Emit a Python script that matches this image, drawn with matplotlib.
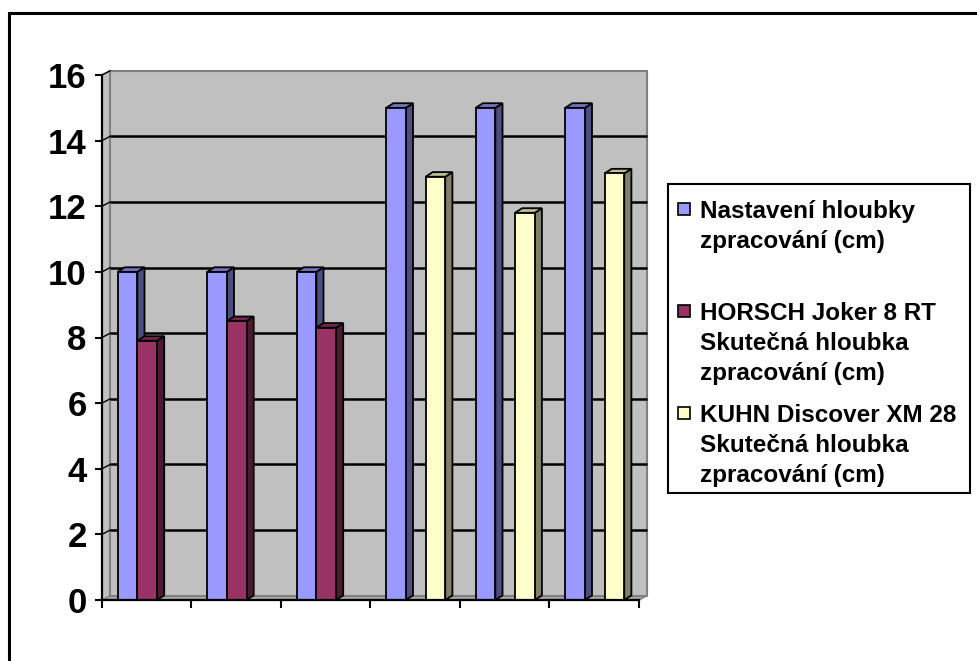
import matplotlib
matplotlib.use("Agg")
import matplotlib.pyplot as plt
from matplotlib.patches import Rectangle, Polygon
import numpy as np

# ---------------- data ----------------
categories = ["1", "2", "3", "4", "5", "6"]
series_names = [
    "Nastavení hloubky\nzpracování (cm)",
    "HORSCH Joker 8 RT\nSkutečná hloubka\nzpracování (cm)",
    "KUHN Discover XM 28\nSkutečná hloubka\nzpracování (cm)",
]
nastaveni = [10, 10, 10, 15, 15, 15]
horsch = [7.9, 8.5, 8.3, np.nan, np.nan, np.nan]
kuhn = [np.nan, np.nan, np.nan, 12.9, 11.8, 13.0]
y_ticks = [0, 2, 4, 6, 8, 10, 12, 14, 16]

# ---------------- style ----------------
front_cols = ["#9999FF", "#993366", "#FFFFCC"]
side_cols = ["#4D4D80", "#4D1A33", "#808066"]
top_cols = ["#7373BF", "#73264D", "#BFBF99"]
FONT = "Liberation Sans"

W, H = 978, 661
fig = plt.figure(figsize=(W / 100, H / 100), dpi=100)
fig.patch.set_facecolor("white")

def fx(px):
    return px / W

def fy(py):
    return 1 - py / H

# outer chart border (top and left visible)
fig.patches.append(Rectangle((fx(9), fy(H + 50)), fx(W + 50), fy(13) - fy(H + 50),
                             transform=fig.transFigure, fill=False,
                             edgecolor="black", linewidth=2.2, zorder=0))

ax_left, ax_right, ax_top, ax_bot = 102, 639, 75, 600
ax = fig.add_axes([fx(ax_left), fy(ax_bot), fx(ax_right - ax_left), fy(ax_top) - fy(ax_bot)])
ax.set_xlim(0, len(categories))
ax.set_ylim(y_ticks[0], y_ticks[-1])
ax.patch.set_visible(False)

ymax = y_ticks[-1]
ncat = len(categories)
wdx, wdy = 0.09, 0.13   # wall depth offset in data units
bdx, bdy = 0.08, 0.14   # bar depth offset

wall_c = "#C0C0C0"
edge_c = "#808080"
# floor
ax.add_patch(Polygon([(0, 0), (ncat, 0), (ncat + wdx, wdy), (wdx, wdy)], closed=True,
                     facecolor="#A6A6A6", edgecolor=edge_c, linewidth=1, zorder=0.5, clip_on=False))
# side wall
ax.add_patch(Polygon([(0, 0), (wdx, wdy), (wdx, ymax + wdy), (0, ymax)], closed=True,
                     facecolor=wall_c, edgecolor=edge_c, linewidth=1, zorder=0.5, clip_on=False))
# back wall
ax.add_patch(Rectangle((wdx, wdy), ncat, ymax, facecolor=wall_c, edgecolor=edge_c,
                       linewidth=1.5, zorder=0.6, clip_on=False))
# gridlines on back wall and side wall
for v in y_ticks[1:-1]:
    ax.plot([wdx, ncat + wdx], [v + wdy, v + wdy], color="black", linewidth=1.8,
            zorder=0.8, clip_on=False, solid_capstyle="butt")
for v in y_ticks[1:]:
    ax.plot([0, wdx], [v, v + wdy], color="black", linewidth=1.0, zorder=0.8, clip_on=False)

# bars
data = [nastaveni, horsch, kuhn]
bw = 0.22
start = 0.175
z = 2
for ci in range(ncat):
    for si, vals in enumerate(data):
        h = vals[ci]
        if h is None or np.isnan(h):
            continue
        x0 = ci + start + si * bw
        x1 = x0 + bw
        ax.add_patch(Polygon([(x1, 0), (x1 + bdx, bdy), (x1 + bdx, h + bdy), (x1, h)], closed=True,
                             facecolor=side_cols[si], edgecolor="black", linewidth=1.3,
                             zorder=z, clip_on=False, joinstyle="miter"))
        ax.add_patch(Polygon([(x0, h), (x0 + bdx, h + bdy), (x1 + bdx, h + bdy), (x1, h)], closed=True,
                             facecolor=top_cols[si], edgecolor="black", linewidth=1.3,
                             zorder=z, clip_on=False, joinstyle="miter"))
        ax.bar([x0], [h], width=bw, align="edge", color=front_cols[si],
               edgecolor="black", linewidth=1.3, zorder=z + 0.5)
        z += 1

# axes spines & ticks
for s in ["top", "right"]:
    ax.spines[s].set_visible(False)
for s in ["left", "bottom"]:
    ax.spines[s].set_color("black")
    ax.spines[s].set_linewidth(1.6)
    ax.spines[s].set_zorder(50)
ax.set_yticks(y_ticks)
ax.set_yticklabels([str(t) for t in y_ticks], fontsize=25, fontweight="bold", family=FONT)
ax.set_xticks(np.arange(0, ncat + 1))
ax.set_xticklabels([])
ax.tick_params(axis="y", direction="out", length=5, width=1.5, pad=6)
ax.tick_params(axis="x", direction="out", length=6, width=1.5)

# legend (manual, Excel-like)
lg_l, lg_t, lg_r, lg_b = 668, 184, 970, 493
fig.patches.append(Rectangle((fx(lg_l), fy(lg_b)), fx(lg_r - lg_l), fy(lg_t) - fy(lg_b),
                             transform=fig.transFigure, facecolor="white",
                             edgecolor="black", linewidth=1.5, zorder=5))
first_baselines = [218, 320, 422]
line_step = 30
sq = 12
for si, name in enumerate(series_names):
    b = first_baselines[si]
    fig.patches.append(Rectangle((fx(678), fy(b - 3)), fx(sq), fy(b - 3 - sq) - fy(b - 3),
                                 transform=fig.transFigure, facecolor=front_cols[si],
                                 edgecolor="black", linewidth=1.2, zorder=6))
    for li, line in enumerate(name.split("\n")):
        fig.text(fx(700), fy(b + li * line_step), line, fontsize=17.5, fontweight="bold",
                 family=FONT, va="baseline", ha="left", zorder=7)

fig.savefig("out.png", dpi=100)
